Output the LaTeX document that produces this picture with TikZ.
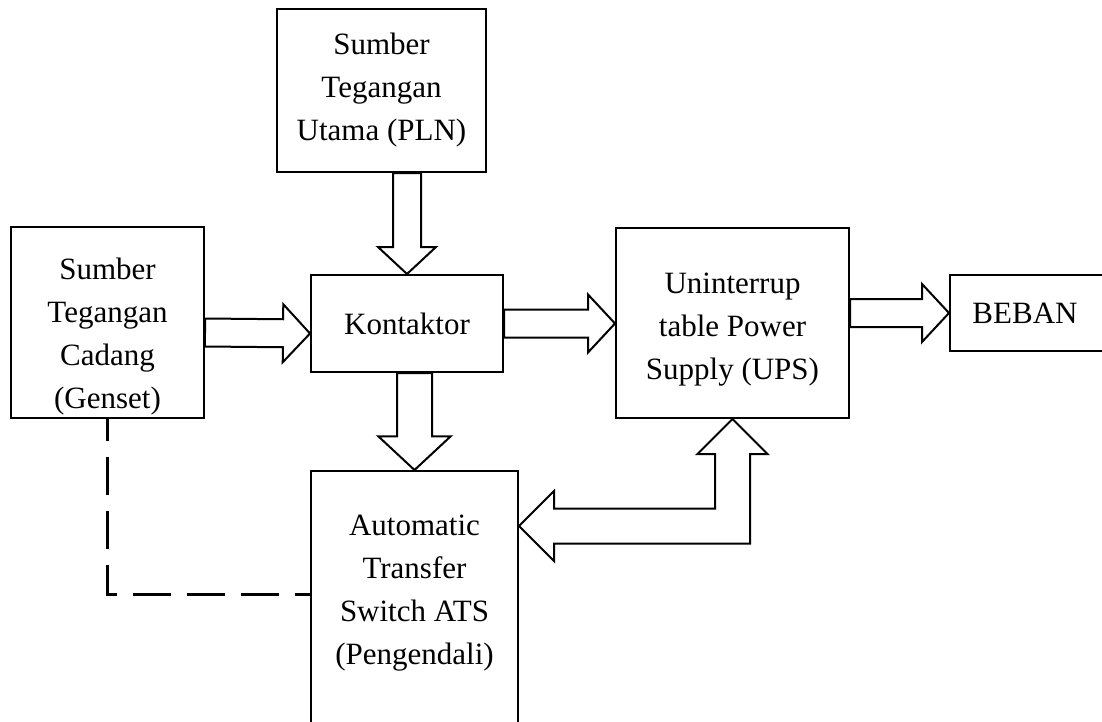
\documentclass[tikz,border=0pt]{standalone}
\usepackage{fontspec}
\setmainfont{Liberation Serif}
\usetikzlibrary{calc}
\begin{document}
\begin{tikzpicture}[x=0.5pt,y=0.5pt,font=\fontsize{15.5}{21.5}\selectfont,line join=miter,
 box/.style={draw,line width=1pt,align=center,inner sep=0pt},
 hollow/.style={draw,line width=1pt},
 ctrl/.style={line width=1.5pt,dash pattern=on 19pt off 8pt,dash phase=8pt}]
 % hollow block arrow: tail, tip, size
 \def\blockarrow#1#2#3{\draw[hollow] let \p1=(#1), \p2=(#2), \n1={atan2(\y2-\y1,\x2-\x1)}, \n2={veclen(\x2-\x1,\y2-\y1)} in
  [shift={(\p2)},rotate=\n1] (0,0) -- ({-27*#3},{29*#3}) -- ({-27*#3},{14*#3}) -- ({-\n2},{14*#3})
  -- ({-\n2},{-14*#3}) -- ({-27*#3},{-14*#3}) -- ({-27*#3},{-29*#3}) -- cycle;}
 \useasboundingbox (0,0) rectangle (1102,-722);
 \clip (0,0) rectangle (1102,-722);
 \node[box,minimum width=104.5pt,minimum height=81.5pt] (pln) at (381.5,-90.5) {Sumber\\Tegangan\\Utama (PLN)};
 \node[box,minimum width=96.5pt,minimum height=95.5pt,
  label={[align=center,yshift=-7pt]center:Sumber\\Tegangan\\Cadang\\(Genset)}] (genset) at (107.5,-322.5) {};
 \node[box,minimum width=96pt,minimum height=48.5pt] (kontak) at (407,-323.5) {Kontaktor};
 \node[box,minimum width=116.5pt,minimum height=95pt,
  label={[align=center,yshift=-3.5pt]center:Uninterrup\\table Power\\Supply (UPS)}] (ups) at (732.5,-323) {};
 \node[box,minimum width=80pt,minimum height=38pt,label={[xshift=-2.5pt]center:BEBAN}] (beban) at (1030,-313) {};
 \node[box,minimum width=103.5pt,minimum height=140pt,anchor=north,
  label={[align=center,yshift=9pt]center:Automatic\\Transfer\\Switch ATS\\(Pengendali)}] (ats) at (414.5,-470) {};
 % aliran daya
 \blockarrow{pln.south -| kontak.north}{kontak.north}{1}
 \blockarrow{[yshift=-5pt]genset.east}{[yshift=-5pt]kontak.west}{1}
 \blockarrow{kontak.east}{ups.west |- kontak.east}{1}
 \blockarrow{ups.east |- beban.west}{beban.west}{1}
 \blockarrow{kontak.south -| ats.north}{ats.north}{1.25}
 % ATS <-> UPS
 \coordinate (bt) at ([yshift=42.5pt]ats.east);
 \draw[hollow] (bt) -- ($(bt)+(35,35)$) -- ($(bt)+(35,17.5)$) -- ($(ups.south |- bt)+(-17.5,17.5)$)
  -- ($(ups.south)+(-17.5,-35)$) -- ($(ups.south)+(-35,-35)$) -- (ups.south) -- ($(ups.south)+(35,-35)$)
  -- ($(ups.south)+(17.5,-35)$) -- ($(ups.south |- bt)+(17.5,-17.5)$) -- ($(bt)+(35,-17.5)$)
  -- ($(bt)+(35,-35)$) -- cycle;
 % kendali genset
 \draw[ctrl] (genset.south) |- ([yshift=8.5pt]ats.west);
\end{tikzpicture}
\end{document}
